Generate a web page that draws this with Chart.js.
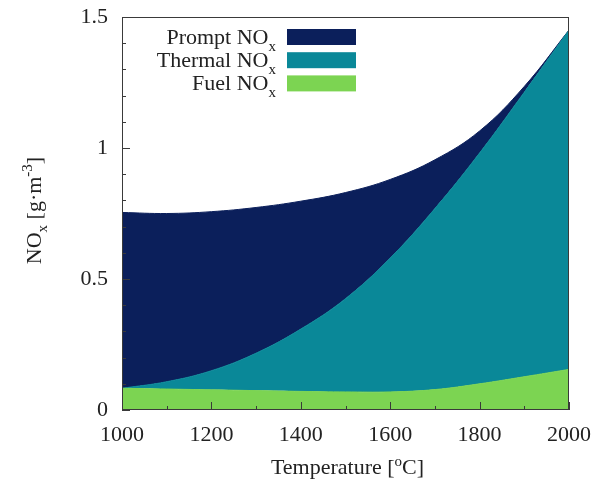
<!DOCTYPE html>
<html>
<head>
  <title>NOx formation vs temperature</title>
  <script src="https://cdn.jsdelivr.net/npm/chart.js"></script>
  <style>
    body { margin: 0; background: #fff; }
    #wrap { width: 598px; height: 486px; }
  </style>
</head>
<body>
  <div id="wrap"><canvas id="noxChart" width="598" height="486"></canvas></div>

  <script>
    // values, g/m^3 (each layer is its own share, stacked)
    const temperatures = [1000, 1100, 1200, 1300, 1400, 1500, 1600, 1700, 1800, 1900, 2000];
    const fuelNOx    = [0.083, 0.080, 0.077, 0.074, 0.071, 0.069, 0.069, 0.078, 0.100, 0.127, 0.155];
    const thermalNOx = [0.000, 0.028, 0.073, 0.143, 0.238, 0.356, 0.511, 0.691, 0.881, 1.086, 1.295];
    const promptNOx  = [0.671, 0.642, 0.607, 0.556, 0.488, 0.405, 0.300, 0.186, 0.084, 0.022, 0.000];

    const xMajorTicks = [1000, 1200, 1400, 1600, 1800, 2000];
    const xMinorTicks = [1100, 1300, 1500, 1700, 1900];
    const yMajorTicks = [0, 0.5, 1, 1.5];
    const yMinorTicks = [0.1, 0.2, 0.3, 0.4, 0.6, 0.7, 0.8, 0.9, 1.1, 1.2, 1.3, 1.4];

    const seriesNames = ['Prompt NO', 'Thermal NO', 'Fuel NO'];
    const colors = { prompt: '#0b1f5b', thermal: '#0a8898', fuel: '#7cd452' };

    const SERIF = '"Liberation Serif", "Times New Roman", serif';

    function points(vals) {
      return temperatures.map((t, i) => ({ x: t, y: vals[i] }));
    }

    function layer(label, vals, color, fill) {
      return {
        label: label,
        data: points(vals),
        backgroundColor: color,
        borderColor: color,
        borderWidth: 1,
        pointRadius: 0,
        fill: fill,
        tension: 0.4
      };
    }

    // frame + inward tick marks
    const framePlugin = {
      id: 'frame',
      afterDatasetsDraw(chart) {
        const ctx = chart.ctx;
        const a = chart.chartArea;
        const xs = chart.scales.x, ys = chart.scales.y;
        ctx.save();
        ctx.strokeStyle = '#3a3a3a';
        ctx.lineWidth = 1;
        ctx.strokeRect(a.left + 0.5, a.top + 0.5, a.right - a.left - 1, a.bottom - a.top - 1);
        ctx.beginPath();
        const tickX = (v, len) => {
          const px = Math.round(xs.getPixelForValue(v)) + 0.5;
          ctx.moveTo(px, a.bottom);
          ctx.lineTo(px, a.bottom - len);
        };
        const tickY = (v, len) => {
          const py = Math.round(ys.getPixelForValue(v)) + 0.5;
          ctx.moveTo(a.left, py);
          ctx.lineTo(a.left + len, py);
        };
        xMajorTicks.forEach(v => tickX(v, 8));
        xMinorTicks.forEach(v => tickX(v, 4));
        yMajorTicks.forEach(v => tickY(v, 8));
        yMinorTicks.forEach(v => tickY(v, 4));
        ctx.stroke();
        ctx.restore();
      }
    };

    // draw a run of normal / small (sub- or superscript) text pieces
    function drawParts(ctx, parts, x, y) {
      parts.forEach(p => {
        ctx.font = p.small ? '15px ' + SERIF : '22px ' + SERIF;
        ctx.fillText(p.text, x, y + (p.shift || 0));
        x += ctx.measureText(p.text).width;
      });
      return x;
    }
    function partsWidth(ctx, parts) {
      let w = 0;
      parts.forEach(p => {
        ctx.font = p.small ? '15px ' + SERIF : '22px ' + SERIF;
        w += ctx.measureText(p.text).width;
      });
      return w;
    }

    const textPlugin = {
      id: 'texts',
      afterDraw(chart) {
        const ctx = chart.ctx;
        const a = chart.chartArea;
        ctx.save();
        ctx.fillStyle = '#222';
        ctx.textAlign = 'left';
        ctx.textBaseline = 'alphabetic';

        // legend
        const legendColors = [colors.prompt, colors.thermal, colors.fuel];
        seriesNames.forEach((name, i) => {
          const cy = 37 + i * 23.2;
          const parts = [{ text: name }, { text: 'x', small: true, shift: 7 }];
          const w = partsWidth(ctx, parts);
          ctx.fillStyle = '#222';
          drawParts(ctx, parts, 276 - w, cy + 7);
          ctx.fillStyle = legendColors[i];
          ctx.fillRect(287, cy - 8, 69, 16);
        });

        // x axis title
        ctx.fillStyle = '#222';
        const xt = [{ text: 'Temperature [' }, { text: 'o', small: true, shift: -8 }, { text: 'C]' }];
        const xw = partsWidth(ctx, xt);
        drawParts(ctx, xt, (a.left + a.right) / 2 - xw / 2 + 2, 474);

        // y axis title, rotated
        const yt = [{ text: 'NO' }, { text: 'x', small: true, shift: 6 }, { text: ' [g\u00b7m' },
                    { text: '-3', small: true, shift: -9 }, { text: ']' }];
        const yw = partsWidth(ctx, yt);
        ctx.translate(41, (a.top + a.bottom) / 2 - 3);
        ctx.rotate(-Math.PI / 2);
        drawParts(ctx, yt, -yw / 2, 0);
        ctx.restore();
      }
    };

    const ctx = document.getElementById('noxChart').getContext('2d');
    new Chart(ctx, {
      type: 'line',
      data: {
        datasets: [
          layer('Fuel NOx', fuelNOx, colors.fuel, 'origin'),
          layer('Thermal NOx', thermalNOx, colors.thermal, '-1'),
          layer('Prompt NOx', promptNOx, colors.prompt, '-1')
        ]
      },
      options: {
        responsive: false,
        animation: false,
        layout: { padding: { top: 17, right: 29, left: 0, bottom: 0 } },
        plugins: {
          legend: { display: false },
          tooltip: { enabled: false }
        },
        scales: {
          x: {
            type: 'linear',
            min: 1000,
            max: 2000,
            grid: { display: false, drawTicks: false, tickLength: 0 },
            border: { display: false },
            afterBuildTicks: s => { s.ticks = xMajorTicks.map(v => ({ value: v })); },
            afterFit: s => { s.height = 76; s.paddingLeft = 0; s.paddingRight = 0; },
            ticks: {
              padding: 12,
              color: '#222',
              font: { family: SERIF, size: 22 },
              callback: v => String(v)
            }
          },
          y: {
            type: 'linear',
            stacked: true,
            min: 0,
            max: 1.5,
            grid: { display: false, drawTicks: false, tickLength: 0 },
            border: { display: false },
            afterBuildTicks: s => { s.ticks = yMajorTicks.map(v => ({ value: v })); },
            afterFit: s => { s.width = 122; s.paddingTop = 0; s.paddingBottom = 0; },
            ticks: {
              padding: 14,
              color: '#222',
              font: { family: SERIF, size: 22 },
              callback: v => String(v)
            }
          }
        }
      },
      plugins: [framePlugin, textPlugin]
    });
  </script>
</body>
</html>
